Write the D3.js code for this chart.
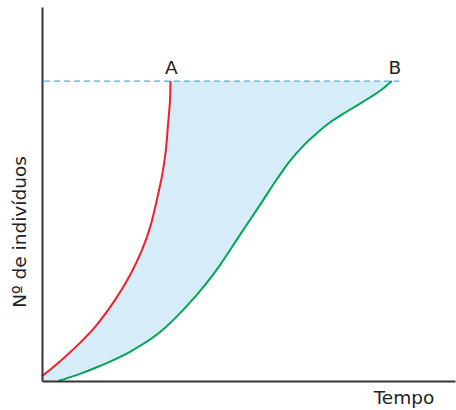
<!DOCTYPE html>
<html><head><meta charset="utf-8">
<script src="https://cdn.jsdelivr.net/npm/d3@7"></script>
<style>body{margin:0;background:#fff}</style>
</head><body>
<svg id="c" width="456" height="410"></svg>
<script>
// Data (x: tempo 0-100, y: nº de indivíduos 0-100)
const redX   = [0, 4.4, 9.2, 12.8, 17.7, 21.3, 24.2, 26.2, 27.8, 29.1, 30.0, 30.5, 31.0, 31.1];
const redY   = [1.3, 5.3, 10.2, 14.4, 21.7, 28.3, 35.0, 41.2, 48.4, 55.1, 61.8, 68.4, 75.1, 80.2];
const greenX = [3.9, 9.2, 14.0, 21.3, 28.6, 34.6, 39.5, 43.1, 47.9, 52.8, 56.9, 60.0, 63.2, 66.6, 69.7, 72.9, 76.3, 79.4, 82.6, 84.7];
const greenY = [0, 1.9, 4.0, 7.8, 13.1, 19.5, 25.7, 31.0, 39.0, 47.1, 54.0, 58.8, 62.8, 66.3, 69.1, 71.4, 73.7, 75.8, 78.2, 80.2];
const capacity = 80.2;
const capacityEnd = 86.5;
const pointLabels = ["A", "B"];
const xTitle = "Tempo";
const yTitle = "Nº de indivíduos";

const svg = d3.select("#c");
const x = d3.scaleLinear().domain([0, 100]).range([42, 455]);
const y = d3.scaleLinear().domain([0, 100]).range([381, 7]);

const red = redX.map((v, i) => [v, redY[i]]);
const green = greenX.map((v, i) => [v, greenY[i]]);

const line = d3.line().x(d => x(d[0])).y(d => y(d[1])).curve(d3.curveCatmullRom.alpha(0.5));
const gline = d3.line().x(d => x(d[0])).y(d => y(d[1])).curve(d3.curveMonotoneX);

// fill between curves
const redPath = line(red);
const greenPath = gline(green);
const greenRevPath = gline(green.slice().reverse());
const fillPath = redPath + "L" + greenRevPath.slice(1) + "L" + x(0) + "," + y(0) + "Z";
svg.append("path").attr("d", fillPath).attr("fill", "#d6edf9").attr("stroke", "none");

// dashed capacity line
svg.append("line")
  .attr("x1", x(0.5)).attr("x2", x(capacityEnd))
  .attr("y1", y(capacity)).attr("y2", y(capacity))
  .attr("stroke", "#3fb4e2").attr("stroke-width", 1.3).attr("stroke-dasharray", "6,4");

// curves
svg.append("path").attr("d", redPath).attr("fill", "none").attr("stroke", "#e8232b").attr("stroke-width", 2);
svg.append("path").attr("d", greenPath).attr("fill", "none").attr("stroke", "#00a651").attr("stroke-width", 2);

// axes
const ax = svg.append("g").attr("transform", `translate(0,${y(0)})`)
  .call(d3.axisBottom(x).ticks(0).tickSizeOuter(0));
const ay = svg.append("g").attr("transform", `translate(${x(0)},0)`)
  .call(d3.axisLeft(y).ticks(0).tickSizeOuter(0));
[ax, ay].forEach(g => g.select(".domain").attr("stroke", "#333").attr("stroke-width", 2));

// labels
const font = "'DejaVu Sans', Verdana, sans-serif";
const fs = 18.5;
svg.append("text").attr("x", x(red[red.length-1][0]) + 1).attr("y", 74)
  .attr("text-anchor", "middle").attr("font-family", font).attr("font-size", fs).attr("fill", "#222").text(pointLabels[0]);
svg.append("text").attr("x", x(green[green.length-1][0]) + 3).attr("y", 74)
  .attr("text-anchor", "middle").attr("font-family", font).attr("font-size", fs).attr("fill", "#222").text(pointLabels[1]);
svg.append("text").attr("x", 404).attr("y", 404)
  .attr("text-anchor", "middle").attr("font-family", font).attr("font-size", fs).attr("fill", "#222").text(xTitle);
svg.append("text").attr("transform", "translate(26,232) rotate(-90)")
  .attr("text-anchor", "middle").attr("font-family", font).attr("font-size", fs).attr("fill", "#222").text(yTitle);
</script>
</body></html>
